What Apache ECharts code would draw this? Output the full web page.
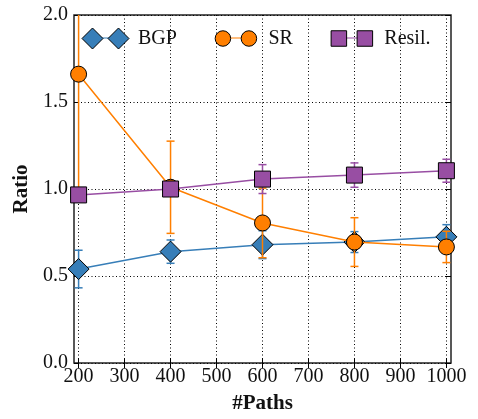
<!DOCTYPE html>
<html>
<head>
<meta charset="utf-8">
<script src="https://cdn.jsdelivr.net/npm/echarts@6/dist/echarts.min.js"></script>
<style>
html,body{margin:0;padding:0;background:#fff;}
#chart{width:478px;height:419px;}
</style>
</head>
<body>
<div id="chart"></div>
<script>
// ---- data ----
const xValues = [200, 400, 600, 800, 1000];
const xTickLabels = [200, 300, 400, 500, 600, 700, 800, 900, 1000];
const yTickLabels = [0.0, 0.5, 1.0, 1.5, 2.0];
const seriesNames = ['BGP', 'SR', 'Resil.'];
const bgpValues = [0.54, 0.64, 0.68, 0.695, 0.725];
const bgpErr = [0.108, 0.067, 0.08, 0.06, 0.07];
const srValues = [1.66, 1.01, 0.805, 0.695, 0.667];
const srErr = [0.67, 0.265, 0.2, 0.14, 0.09];
const resilValues = [0.966, 1.0, 1.057, 1.08, 1.105];
const resilErr = [0.03, 0.03, 0.083, 0.07, 0.066];

const colors = ['#377eb8', '#ff7f00', '#984ea3'];
const FONT = 'Liberation Serif';
const TXT = '#111';

const chart = echarts.init(document.getElementById('chart'), null, {renderer: 'canvas'});

function lineSeries(name, values, color, symbol, size, z) {
  return {
    type: 'line', name: name, z: z,
    data: xValues.map((x, i) => [x, values[i]]),
    symbol: symbol, symbolSize: size,
    clip: true,
    lineStyle: {color: color, width: 1.5},
    itemStyle: {color: color, borderColor: '#000', borderWidth: 1},
    emphasis: {disabled: true},
    animation: false
  };
}

function errorSeries(name, values, errs, color, z) {
  return {
    type: 'custom', name: name, z: z, clip: true, silent: true,
    itemStyle: {color: color},
    data: xValues.map((x, i) => [x, values[i] - errs[i], values[i] + errs[i]]),
    encode: {x: 0, y: [1, 2]},
    renderItem: function (params, api) {
      const x = api.value(0);
      const lo = api.coord([x, api.value(1)]);
      const hi = api.coord([x, api.value(2)]);
      const cap = 4;
      const st = {stroke: color, lineWidth: 1.5};
      return {
        type: 'group',
        children: [
          {type: 'line', shape: {x1: lo[0], y1: lo[1], x2: hi[0], y2: hi[1]}, style: st},
          {type: 'line', shape: {x1: lo[0] - cap, y1: lo[1], x2: lo[0] + cap, y2: lo[1]}, style: st},
          {type: 'line', shape: {x1: hi[0] - cap, y1: hi[1], x2: hi[0] + cap, y2: hi[1]}, style: st}
        ]
      };
    },
    animation: false
  };
}

// legend icons (47 x 22 box, two markers joined)
const BOX = ' M0 0 M47 22';
const iconDiamond = 'path://M10.5 0.5 L21 11 L10.5 21.5 L0 11 Z M36.5 0.5 L47 11 L36.5 21.5 L26 11 Z' + BOX;
const iconCircle = 'path://M2.75 11 A7.75 7.75 0 1 0 18.25 11 A7.75 7.75 0 1 0 2.75 11 Z M28.75 11 A7.75 7.75 0 1 0 44.25 11 A7.75 7.75 0 1 0 28.75 11 Z' + BOX;
const iconSquare = 'path://M2.75 3.25 L18.25 3.25 L18.25 18.75 L2.75 18.75 Z M28.75 3.25 L44.25 3.25 L44.25 18.75 L28.75 18.75 Z' + BOX;
const iconConn = 'path://M10.5 10.4 L36.5 10.4 L36.5 11.6 L10.5 11.6 Z' + BOX;
const markerIcons = [iconDiamond, iconCircle, iconSquare];

const legendBase = {
  orient: 'horizontal', left: 81.5, top: 27, padding: 0,
  itemWidth: 47, itemHeight: 22, itemGap: 35,
  selectedMode: false
};

const xTickOpts = {show: true, inside: true, length: 5, lineStyle: {color: '#000', width: 1}, customValues: xTickLabels};
const yTickOpts = {show: true, inside: true, length: 5, lineStyle: {color: '#000', width: 1}};

const option = {
  backgroundColor: '#fff',
  animation: false,
  grid: {left: 74, top: 15, right: 27, bottom: 54, show: true, borderColor: '#222', borderWidth: 1.5, backgroundColor: 'transparent'},
  legend: [
    Object.assign({}, legendBase, {
      z: 3,
      data: seriesNames.map(n => ({name: n, icon: iconConn})),
      itemStyle: {borderWidth: 0},
      textStyle: {fontFamily: FONT, fontSize: 20, color: 'rgba(0,0,0,0)', padding: [0, 0, 0, 4]}
    }),
    Object.assign({}, legendBase, {
      z: 4,
      data: seriesNames.map((n, i) => ({name: n, icon: markerIcons[i]})),
      itemStyle: {borderColor: '#000', borderWidth: 1},
      textStyle: {fontFamily: FONT, fontSize: 20, color: TXT, padding: [0, 0, 0, 4]}
    })
  ],
  xAxis: [
    {
      type: 'value', min: 190, max: 1010, position: 'bottom',
      name: '#Paths', nameLocation: 'middle', nameGap: 30,
      nameTextStyle: {fontFamily: FONT, fontSize: 21, fontWeight: 'bold', color: TXT},
      axisLine: {show: false},
      axisTick: xTickOpts,
      axisLabel: {customValues: xTickLabels, fontFamily: FONT, fontSize: 20, color: TXT, margin: 4,
        formatter: v => String(v)},
      splitLine: {show: true, lineStyle: {color: '#000', width: 1, type: [1, 2.5]}}
    },
    {
      type: 'value', min: 190, max: 1010, position: 'top',
      axisLine: {show: false},
      axisTick: xTickOpts,
      axisLabel: {show: false, customValues: xTickLabels},
      splitLine: {show: false}
    }
  ],
  yAxis: [
    {
      type: 'value', min: 0, max: 2, interval: 0.5, position: 'left',
      name: 'Ratio', nameLocation: 'middle', nameGap: 41,
      nameTextStyle: {fontFamily: FONT, fontSize: 21, fontWeight: 'bold', color: TXT},
      axisLine: {show: false},
      axisTick: yTickOpts,
      axisLabel: {fontFamily: FONT, fontSize: 20, color: TXT, margin: 6,
        formatter: v => yTickLabels.includes(v) ? v.toFixed(1) : ''},
      splitLine: {show: true, lineStyle: {color: '#000', width: 1, type: [1, 2.5]}}
    },
    {
      type: 'value', min: 0, max: 2, interval: 0.5, position: 'right',
      axisLine: {show: false},
      axisTick: yTickOpts,
      axisLabel: {show: false},
      splitLine: {show: false}
    }
  ],
  series: [
    lineSeries('BGP', bgpValues, colors[0], 'diamond', 21, 3),
    lineSeries('SR', srValues, colors[1], 'circle', 16, 5),
    lineSeries('Resil.', resilValues, colors[2], 'rect', 16, 7),
    errorSeries('BGP', bgpValues, bgpErr, colors[0], 2),
    errorSeries('SR', srValues, srErr, colors[1], 4),
    errorSeries('Resil.', resilValues, resilErr, colors[2], 6)
  ]
};

chart.setOption(option);
</script>
</body>
</html>
